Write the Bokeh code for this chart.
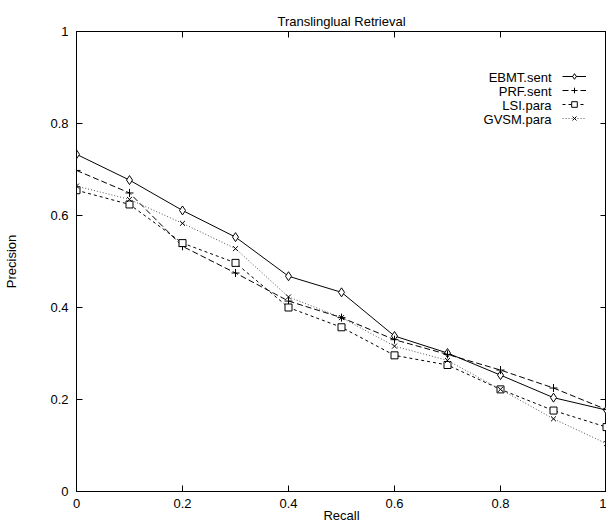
from bokeh.plotting import figure
from bokeh.models import (Range1d, LinearAxis, FixedTicker, Legend, LegendItem,
                          Label, ColumnDataSource)
from bokeh.embed import file_html
from bokeh.resources import INLINE

# ---- data ----
recall = [0.0, 0.1, 0.2, 0.3, 0.4, 0.5, 0.6, 0.7, 0.8, 0.9, 1.0]
ebmt_sent = [0.733, 0.677, 0.611, 0.553, 0.468, 0.433, 0.338, 0.301, 0.253, 0.204, 0.177]
prf_sent = [0.698, 0.649, 0.533, 0.475, 0.414, 0.378, 0.330, 0.298, 0.264, 0.225, 0.178]
lsi_para = [0.655, 0.624, 0.540, 0.497, 0.400, 0.357, 0.296, 0.275, 0.222, 0.176, 0.140]
gvsm_para = [0.664, 0.635, 0.583, 0.528, 0.423, 0.378, 0.316, 0.285, 0.222, 0.158, 0.104]
series_names = ["EBMT.sent", "PRF.sent", "LSI.para", "GVSM.para"]
tick_values = [0.0, 0.2, 0.4, 0.6, 0.8, 1.0]
tick_labels = ["0", "0.2", "0.4", "0.6", "0.8", "1"]

FONT = "Liberation Sans"
FS = "13px"

p = figure(width=606, height=525, output_backend="svg", toolbar_location=None,
           x_range=Range1d(0, 1), y_range=Range1d(0, 1),
           min_border_left=76, min_border_right=0, min_border_top=31,
           min_border_bottom=33, x_axis_label="Recall", y_axis_label="Precision")
p.title.text = "Translinglual Retrieval"
p.title.align = "center"
p.title.text_font = FONT
p.title.text_font_size = FS
p.title.text_font_style = "normal"
p.title.text_color = "black"
p.title.standoff = 6
p.grid.visible = False
p.outline_line_color = "black"
p.outline_line_width = 1
p.background_fill_color = "white"
p.border_fill_color = "white"

overrides = {v: t for v, t in zip(tick_values, tick_labels)}
for ax in (p.xaxis[0], p.yaxis[0]):
    ax.ticker = FixedTicker(ticks=tick_values)
    ax.major_label_overrides = overrides
    ax.minor_tick_line_color = None
    ax.major_tick_in = 6
    ax.major_tick_out = 0
    ax.axis_line_color = "black"
    ax.major_tick_line_color = "black"
    ax.major_label_text_font = FONT
    ax.major_label_text_font_size = FS
    ax.major_label_text_color = "black"
    ax.axis_label_text_font = FONT
    ax.axis_label_text_font_size = FS
    ax.axis_label_text_font_style = "normal"
    ax.axis_label_text_color = "black"
p.yaxis[0].major_label_standoff = 8
p.yaxis[0].axis_label_standoff = 28
p.xaxis[0].major_label_standoff = 7
p.xaxis[0].axis_label_standoff = -3

# mirrored ticks (top and right), no labels
for side in ("above", "right"):
    ax = LinearAxis(ticker=FixedTicker(ticks=tick_values), axis_line_color=None,
                    major_tick_in=6, major_tick_out=0, minor_tick_line_color=None,
                    major_label_text_font_size="0px", major_label_standoff=0,
                    major_tick_line_color="black")
    ax.major_label_overrides = {v: "" for v in tick_values}
    p.add_layout(ax, side)

src = ColumnDataSource(dict(x=recall, e=ebmt_sent, p=prf_sent, l=lsi_para, g=gvsm_para))

r1l = p.line("x", "e", source=src, line_color="black", line_width=1)
r1m = p.scatter("x", "e", source=src, marker="diamond", size=9, fill_color="white",
                line_color="black", line_width=1)
r2l = p.line("x", "p", source=src, line_color="black", line_width=1, line_dash="6 3")
r2m = p.scatter("x", "p", source=src, marker="cross", size=8, line_color="black", line_width=1)
r3l = p.line("x", "l", source=src, line_color="black", line_width=1, line_dash="3 3")
r3m = p.scatter("x", "l", source=src, marker="square", size=7, fill_color="white",
                line_color="black", line_width=1)
r4l = p.line("x", "g", source=src, line_color="#555555", line_width=1, line_dash="1 2")
r4m = p.scatter("x", "g", source=src, marker="x", size=7, line_color="black", line_width=1)

items = [LegendItem(label=" ", renderers=[r1l, r1m]),
         LegendItem(label=" ", renderers=[r2l, r2m]),
         LegendItem(label=" ", renderers=[r3l, r3m]),
         LegendItem(label=" ", renderers=[r4l, r4m])]
legend = Legend(items=items, location=(486, 366), padding=0, margin=0, spacing=0,
                border_line_color=None, background_fill_alpha=0,
                label_standoff=0, label_width=0, label_height=14,
                glyph_height=14, glyph_width=24, label_text_font_size="1px")
p.add_layout(legend, "center")

for i, name in enumerate(series_names):
    p.add_layout(Label(x=1, y=1, x_offset=-55, y_offset=-46 - 14 * i, text=name,
                       text_align="right", text_baseline="middle", text_font=FONT,
                       text_font_size=FS, text_color="black"))

open("out.html", "w").write(file_html(p, INLINE))
